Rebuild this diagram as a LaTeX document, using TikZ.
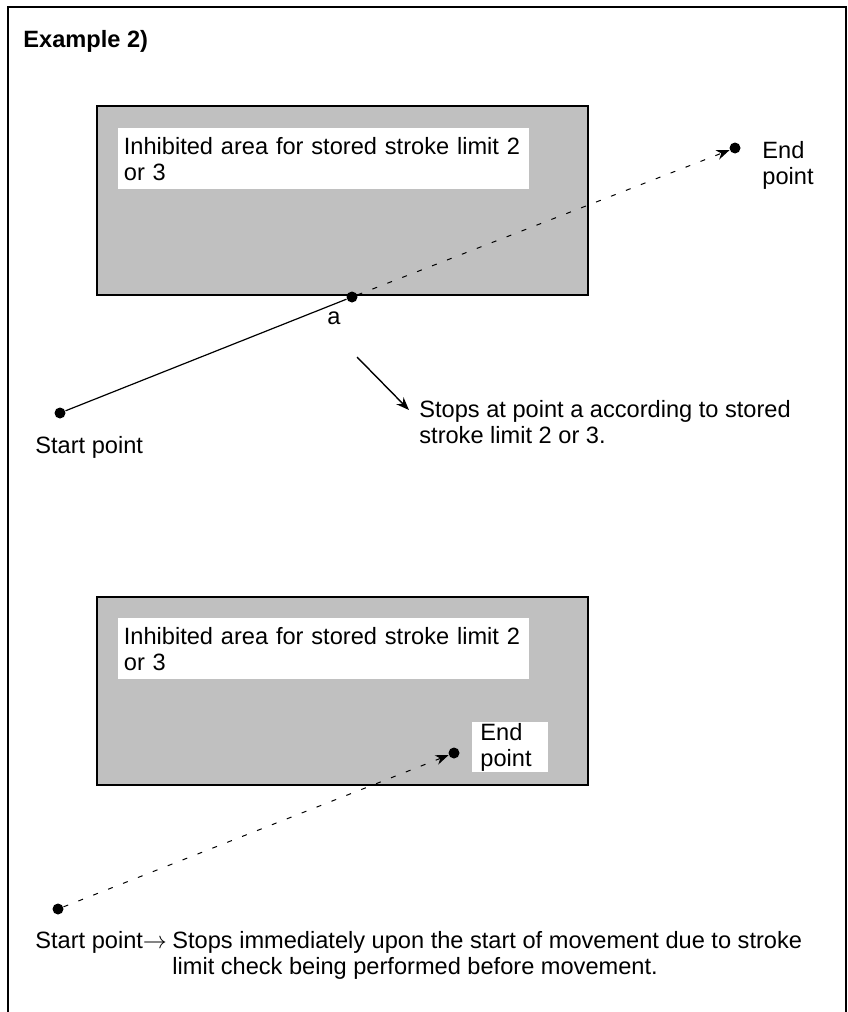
\documentclass[tikz,border=0pt]{standalone}
\usepackage{fontspec}
\setmainfont{Liberation Sans}
\usepackage{tikz}
\usetikzlibrary{arrows.meta, positioning}
\definecolor{AreaGray}{HTML}{C0C0C0}

\begin{document}
\begin{tikzpicture}[
    x=0.5pt, y=-0.5pt,
    font=\fontsize{11.8}{13}\selectfont,
    frame/.style={draw=black, line width=1pt},
    area/.style={draw=black, line width=0.6pt, fill=AreaGray},
    infobox/.style={fill=white, anchor=north west, align=left, inner xsep=2.75pt, inner ysep=0pt},
    dot/.style={circle, fill=black, inner sep=0pt, minimum size=5.5pt},
    txt/.style={anchor=base west, inner sep=0pt, align=left},
    move/.style={line width=0.6pt},
    path/.style={line width=0.5pt, dash pattern=on 2.5pt off 5.5pt, -{Stealth[length=6.5pt, width=5pt]}},
    note/.style={line width=0.7pt, -{Stealth[length=6.5pt, width=5pt]}}
]
\useasboundingbox (0,0) rectangle (847,1012);

% Frame
\draw[frame] (8,1012) -- (8,7) -- (846,7) -- (846,1012);
\node[txt, font=\fontsize{11.8}{13}\selectfont\bfseries] (title) at (23,47) {Example 2)};

% Top example
\draw[area] (97,106) rectangle (588,295);
\node[infobox, text width=200pt, minimum height=30.5pt] (areaA) at (118,128)
    {Inhibited area for stored stroke limit 2\\or 3};

\node[dot] (startA) at (60,413) {};
\node[dot] (a) at (352,297) {};
\node[dot] (endA) at (735,148) {};
\draw[move] (startA) -- (a);
\draw[path] (a) -- (endA);

\node[txt] (labA) at (327,324) {a};
\node[txt] (endAtxt) at (762,184) {End\\point};
\node[txt] (startAtxt) at (35,453) {Start point};

\coordinate (noteA) at (357,357);
\coordinate (noteB) at (409,410);
\draw[note] (noteA) -- (noteB);
\node[txt] (stopA) at (419,443) {Stops at point a according to stored\\stroke limit 2 or 3.};

% Bottom example
\draw[area] (97,597) rectangle (588,785);
\node[infobox, text width=200pt, minimum height=30.5pt] (areaB) at (118,618)
    {Inhibited area for stored stroke limit 2\\or 3};

\node[dot] (startB) at (58,909) {};
\node[dot] (endB) at (454,753) {};
\draw[path] (startB) -- (endB);
\node[infobox, text width=30pt, inner xsep=4pt, inner ysep=0.5pt] (endBtxt) at (472,722) {End\\point};

\node[txt] (startBtxt) at (35,948) {Start point$\rightarrow$};
\node[txt] (stopB) at (172,974) {Stops immediately upon the start of movement due to stroke\\limit check being performed before movement.};
\end{tikzpicture}
\end{document}
